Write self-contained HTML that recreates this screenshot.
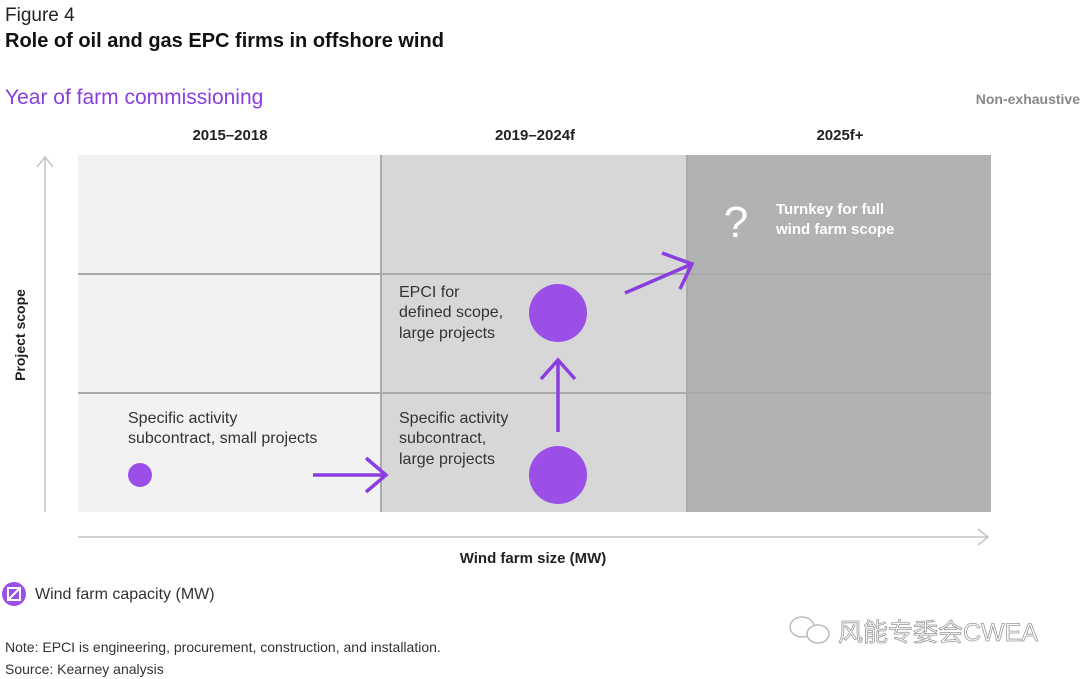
<!DOCTYPE html><html><head><meta charset="utf-8"><style>
body{margin:0;background:#fff;}
svg{display:block;font-family:"Liberation Sans","Noto Sans CJK SC",sans-serif;}
</style></head><body>
<svg width="1080" height="679" viewBox="0 0 1080 679">
<text x="5" y="21" font-size="19" fill="#222">Figure 4</text>
<text x="5" y="47" font-size="20" font-weight="bold" fill="#111">Role of oil and gas EPC firms in offshore wind</text>
<text x="5" y="104" font-size="21" fill="#8a3ee0">Year of farm commissioning</text>
<text x="1080" y="104" font-size="14" font-weight="bold" fill="#888" text-anchor="end">Non-exhaustive</text>
<text x="230" y="140" font-size="15" font-weight="bold" fill="#222" text-anchor="middle">2015–2018</text>
<text x="535" y="140" font-size="15" font-weight="bold" fill="#222" text-anchor="middle">2019–2024f</text>
<text x="840" y="140" font-size="15" font-weight="bold" fill="#222" text-anchor="middle">2025f+</text>
<rect x="78" y="155" width="303" height="357" fill="#f2f2f2"/>
<rect x="381" y="155" width="306" height="357" fill="#d7d7d7"/>
<rect x="687" y="155" width="304" height="357" fill="#b2b2b2"/>
<g stroke="#aaa" stroke-width="2">
<line x1="381" y1="155" x2="381" y2="512"/><line x1="687" y1="155" x2="687" y2="512"/>
<line x1="78" y1="274" x2="991" y2="274"/><line x1="78" y1="393" x2="991" y2="393"/>
</g>
<g stroke="#c4c4c4" stroke-width="1.5" fill="none">
<line x1="45" y1="512" x2="45" y2="158"/><polyline points="37,167 45,157 53,167"/>
<line x1="78" y1="537" x2="987" y2="537"/><polyline points="978,529 988,537 978,545"/>
</g>
<text transform="translate(25,335) rotate(-90)" font-size="14" font-weight="bold" fill="#222" text-anchor="middle">Project scope</text>
<text x="533" y="563" font-size="15" font-weight="bold" fill="#222" text-anchor="middle">Wind farm size (MW)</text>
<g font-size="16" fill="#333">
<text x="128" y="423">Specific activity</text><text x="128" y="443">subcontract, small projects</text>
<text x="399" y="423">Specific activity</text><text x="399" y="443">subcontract,</text><text x="399" y="464">large projects</text>
<text x="399" y="297">EPCI for</text><text x="399" y="317">defined scope,</text><text x="399" y="338">large projects</text>
</g>
<text x="736" y="237" font-size="44" fill="#fff" text-anchor="middle">?</text>
<text x="776" y="214" font-size="15" font-weight="bold" fill="#fff">Turnkey for full</text>
<text x="776" y="234" font-size="15" font-weight="bold" fill="#fff">wind farm scope</text>
<circle cx="140" cy="475" r="12" fill="#9b4fe6"/>
<circle cx="558" cy="475" r="29" fill="#9b4fe6"/>
<circle cx="558" cy="313" r="29" fill="#9b4fe6"/>
<g stroke="#8a3ee0" stroke-width="3.5" fill="none">
<line x1="313" y1="475" x2="386" y2="475"/><polyline points="366,458 386,475 366,492"/>
<line x1="558" y1="432" x2="558" y2="360"/><polyline points="541,379 558,360 575,379"/>
<line x1="625" y1="293" x2="692" y2="264"/><polyline points="662,253 692,264 680,289"/>
</g>
<circle cx="14" cy="594" r="12" fill="#9b4fe6"/>
<g stroke="#fff" stroke-width="2" fill="none"><rect x="8" y="588" width="12" height="12"/><line x1="8" y1="600" x2="20" y2="588"/></g>
<text x="35" y="599" font-size="16" fill="#333">Wind farm capacity (MW)</text>
<text x="5" y="652" font-size="14" fill="#333">Note: EPCI is engineering, procurement, construction, and installation.</text>
<text x="5" y="674" font-size="14" fill="#333">Source: Kearney analysis</text>
<g stroke="#bbb" stroke-width="1.5" fill="#fff"><ellipse cx="802" cy="627" rx="12" ry="10"/><ellipse cx="818" cy="634" rx="11" ry="9"/></g>
<text x="838" y="641" font-size="25" fill="#fff" stroke="#999" stroke-width="0.8">风能专委会CWEA</text>
</svg>
</body></html>
